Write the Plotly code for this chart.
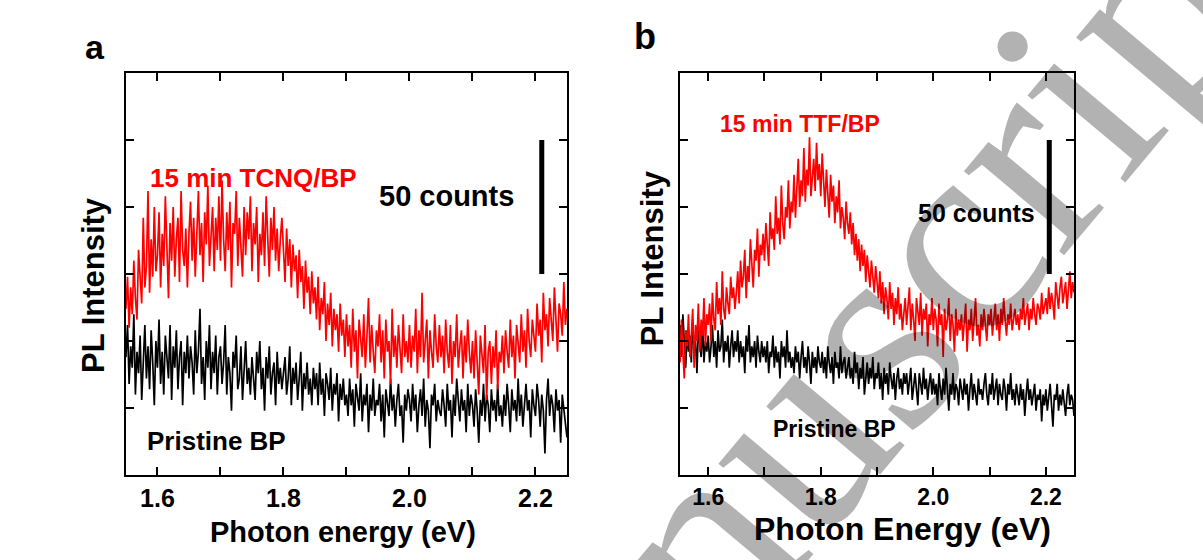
import plotly.graph_objects as go

# Photon energy grid (eV), shared by all four spectra
energy = [
    1.5500, 1.5525, 1.5550, 1.5575, 1.5600, 1.5625, 1.5650, 1.5675, 1.5700, 1.5725,
    1.5750, 1.5775, 1.5800, 1.5825, 1.5850, 1.5875, 1.5900, 1.5925, 1.5950, 1.5975,
    1.6000, 1.6025, 1.6050, 1.6075, 1.6100, 1.6125, 1.6150, 1.6175, 1.6200, 1.6225,
    1.6250, 1.6275, 1.6300, 1.6325, 1.6350, 1.6375, 1.6400, 1.6425, 1.6450, 1.6475,
    1.6500, 1.6525, 1.6550, 1.6575, 1.6600, 1.6625, 1.6650, 1.6675, 1.6700, 1.6725,
    1.6750, 1.6775, 1.6800, 1.6825, 1.6850, 1.6875, 1.6900, 1.6925, 1.6950, 1.6975,
    1.7000, 1.7025, 1.7050, 1.7075, 1.7100, 1.7125, 1.7150, 1.7175, 1.7200, 1.7225,
    1.7250, 1.7275, 1.7300, 1.7325, 1.7350, 1.7375, 1.7400, 1.7425, 1.7450, 1.7475,
    1.7500, 1.7525, 1.7550, 1.7575, 1.7600, 1.7625, 1.7650, 1.7675, 1.7700, 1.7725,
    1.7750, 1.7775, 1.7800, 1.7825, 1.7850, 1.7875, 1.7900, 1.7925, 1.7950, 1.7975,
    1.8000, 1.8025, 1.8050, 1.8075, 1.8100, 1.8125, 1.8150, 1.8175, 1.8200, 1.8225,
    1.8250, 1.8275, 1.8300, 1.8325, 1.8350, 1.8375, 1.8400, 1.8425, 1.8450, 1.8475,
    1.8500, 1.8525, 1.8550, 1.8575, 1.8600, 1.8625, 1.8650, 1.8675, 1.8700, 1.8725,
    1.8750, 1.8775, 1.8800, 1.8825, 1.8850, 1.8875, 1.8900, 1.8925, 1.8950, 1.8975,
    1.9000, 1.9025, 1.9050, 1.9075, 1.9100, 1.9125, 1.9150, 1.9175, 1.9200, 1.9225,
    1.9250, 1.9275, 1.9300, 1.9325, 1.9350, 1.9375, 1.9400, 1.9425, 1.9450, 1.9475,
    1.9500, 1.9525, 1.9550, 1.9575, 1.9600, 1.9625, 1.9650, 1.9675, 1.9700, 1.9725,
    1.9750, 1.9775, 1.9800, 1.9825, 1.9850, 1.9875, 1.9900, 1.9925, 1.9950, 1.9975,
    2.0000, 2.0025, 2.0050, 2.0075, 2.0100, 2.0125, 2.0150, 2.0175, 2.0200, 2.0225,
    2.0250, 2.0275, 2.0300, 2.0325, 2.0350, 2.0375, 2.0400, 2.0425, 2.0450, 2.0475,
    2.0500, 2.0525, 2.0550, 2.0575, 2.0600, 2.0625, 2.0650, 2.0675, 2.0700, 2.0725,
    2.0750, 2.0775, 2.0800, 2.0825, 2.0850, 2.0875, 2.0900, 2.0925, 2.0950, 2.0975,
    2.1000, 2.1025, 2.1050, 2.1075, 2.1100, 2.1125, 2.1150, 2.1175, 2.1200, 2.1225,
    2.1250, 2.1275, 2.1300, 2.1325, 2.1350, 2.1375, 2.1400, 2.1425, 2.1450, 2.1475,
    2.1500, 2.1525, 2.1550, 2.1575, 2.1600, 2.1625, 2.1650, 2.1675, 2.1700, 2.1725,
    2.1750, 2.1775, 2.1800, 2.1825, 2.1850, 2.1875, 2.1900, 2.1925, 2.1950, 2.1975,
    2.2000, 2.2025, 2.2050, 2.2075, 2.2100, 2.2125, 2.2150, 2.2175, 2.2200, 2.2225,
    2.2250, 2.2275, 2.2300, 2.2325, 2.2350, 2.2375, 2.2400, 2.2425, 2.2450, 2.2475,
    2.2500,
]

# Panel a: 15 min TCNQ/BP (red), counts
tcnq_bp = [
    62, 74, 55, 70, 60, 80, 66, 58, 84, 72, 64, 96, 70, 78, 106, 68, 88, 74, 100, 76,
    82, 98, 70, 90, 78, 104, 86, 66, 94, 80, 100, 74, 88, 96, 72, 106, 84, 78, 92, 70,
    90, 102, 80, 96, 74, 88, 106, 82, 94, 72, 98, 86, 108, 78, 92, 100, 76, 96, 84, 104,
    80, 110, 88, 76, 98, 84, 102, 70, 94, 90, 106, 78, 96, 86, 74, 100, 82, 98, 88, 104,
    76, 94, 86, 100, 72, 90, 82, 98, 78, 104, 86, 74, 96, 84, 100, 80, 92, 76, 88, 96,
    84, 72, 92, 78, 88, 70, 86, 76, 82, 66, 84, 72, 78, 62, 80, 68, 74, 60, 76, 64,
    70, 58, 74, 54, 66, 60, 72, 50, 64, 56, 68, 48, 62, 54, 60, 46, 64, 52, 58, 44,
    60, 48, 56, 40, 62, 46, 54, 36, 58, 50, 44, 60, 40, 52, 66, 42, 56, 46, 38, 54,
    48, 60, 42, 54, 36, 58, 46, 50, 34, 62, 44, 52, 40, 56, 48, 38, 60, 44, 50, 42,
    56, 40, 52, 46, 62, 38, 54, 44, 68, 42, 50, 58, 36, 54, 46, 40, 60, 48, 42, 56,
    44, 52, 38, 58, 46, 40, 56, 34, 50, 44, 60, 40, 48, 54, 36, 52, 42, 58, 46, 38,
    50, 36, 54, 42, 30, 52, 44, 38, 56, 28, 46, 50, 34, 48, 40, 54, 32, 46, 42, 52,
    38, 54, 46, 40, 58, 44, 52, 36, 56, 48, 42, 60, 46, 54, 40, 62, 50, 44, 58, 52,
    46, 64, 52, 58, 42, 68, 54, 60, 48, 66, 56, 50, 70, 58, 46, 64, 60, 52, 72, 56,
    62,
]

# Panel a: pristine BP (black), counts
pristine_a = [
    44, 56, 34, 48, 40, 60, 30, 46, 38, 52, 28, 44, 56, 36, 48, 32, 54, 42, 26, 50,
    40, 58, 34, 46, 30, 52, 42, 36, 56, 28, 48, 40, 54, 32, 44, 50, 26, 46, 38, 52,
    36, 48, 42, 30, 54, 38, 46, 62, 34, 44, 28, 50, 40, 56, 32, 46, 38, 52, 30, 44,
    48, 34, 42, 56, 30, 44, 38, 24, 46, 40, 52, 32, 36, 48, 28, 42, 50, 34, 40, 30,
    44, 36, 28, 46, 38, 50, 32, 40, 24, 44, 36, 48, 30, 38, 42, 26, 46, 34, 40, 32,
    38, 44, 30, 36, 48, 26, 40, 34, 42, 28, 36, 46, 24, 38, 32, 42, 30, 36, 26, 40,
    32, 38, 26, 42, 30, 36, 22, 38, 34, 28, 40, 24, 34, 30, 38, 20, 34, 28, 36, 26,
    30, 22, 36, 26, 32, 18, 34, 28, 24, 38, 20, 30, 26, 34, 16, 30, 24, 36, 22, 28,
    26, 34, 20, 30, 14, 32, 26, 22, 36, 24, 30, 18, 28, 34, 22, 26, 12, 30, 24, 32,
    28, 20, 34, 24, 30, 16, 26, 32, 22, 36, 18, 28, 24, 10, 30, 26, 34, 20, 28, 24,
    22, 32, 26, 18, 34, 24, 28, 14, 30, 22, 36, 26, 20, 32, 24, 28, 16, 34, 22, 30,
    26, 18, 32, 24, 12, 28, 22, 34, 20, 30, 26, 16, 32, 24, 28, 20, 34, 22, 26, 18,
    30, 22, 34, 26, 16, 32, 24, 28, 20, 36, 22, 30, 18, 26, 34, 24, 28, 14, 32, 26,
    22, 34, 28, 18, 30, 24, 8, 28, 36, 22, 30, 26, 16, 32, 24, 28, 12, 30, 24, 20,
    14,
]

# Panel b: 15 min TTF/BP (red), counts
ttf_bp = [
    42, 58, 46, 36, 54, 48, 60, 44, 52, 62, 40, 56, 50, 64, 46, 58, 52, 66, 48, 60,
    56, 64, 50, 68, 58, 54, 72, 60, 66, 56, 76, 62, 58, 70, 64, 60, 74, 66, 70, 62,
    68, 76, 64, 80, 70, 74, 84, 66, 78, 72, 88, 76, 70, 84, 80, 92, 74, 86, 82, 90,
    80, 94, 86, 78, 98, 88, 92, 84, 104, 90, 96, 86, 108, 94, 88, 100, 96, 110, 92, 102,
    98, 112, 96, 106, 118, 100, 110, 104, 122, 102, 114, 108, 126, 104, 112, 118, 106, 124, 110, 116,
    104, 120, 110, 100, 114, 106, 96, 112, 102, 108, 94, 104, 98, 110, 92, 100, 96, 88, 102, 94,
    90, 98, 86, 94, 82, 90, 80, 88, 76, 86, 78, 84, 72, 82, 76, 70, 80, 74, 68, 78,
    72, 66, 76, 64, 72, 60, 70, 66, 58, 72, 62, 68, 56, 66, 60, 70, 58, 64, 54, 62,
    66, 56, 62, 70, 54, 64, 58, 50, 66, 60, 56, 68, 52, 62, 58, 64, 48, 60, 56, 66,
    54, 62, 58, 48, 64, 56, 60, 44, 62, 54, 58, 66, 50, 60, 56, 46, 62, 52, 58, 54,
    60, 50, 56, 64, 46, 58, 54, 62, 50, 58, 66, 52, 56, 48, 60, 54, 62, 56, 50, 60,
    56, 62, 52, 58, 64, 54, 60, 50, 62, 56, 66, 58, 52, 60, 56, 64, 54, 58, 62, 56,
    60, 54, 62, 58, 66, 56, 60, 64, 54, 62, 58, 66, 60, 56, 64, 62, 58, 68, 60, 64,
    66, 60, 70, 62, 68, 64, 58, 72, 66, 62, 70, 74, 64, 68, 72, 62, 70, 76, 66, 72,
    68,
]

# Panel b: pristine BP (black), counts
pristine_b = [
    56, 44, 60, 48, 40, 54, 46, 52, 42, 58, 46, 50, 38, 54, 48, 44, 56, 42, 50, 46,
    52, 42, 48, 56, 44, 50, 40, 54, 46, 48, 58, 42, 50, 46, 52, 40, 48, 54, 44, 50,
    46, 54, 42, 50, 44, 48, 38, 52, 46, 56, 42, 48, 44, 50, 40, 52, 46, 42, 50, 44,
    48, 42, 50, 38, 46, 44, 52, 40, 48, 42, 46, 36, 50, 44, 48, 40, 54, 42, 46, 40,
    44, 38, 48, 42, 46, 36, 44, 50, 40, 44, 38, 48, 42, 34, 46, 40, 44, 38, 48, 42,
    40, 46, 38, 44, 36, 48, 42, 38, 44, 34, 46, 40, 42, 36, 48, 38, 42, 44, 36, 40,
    44, 36, 40, 34, 46, 38, 42, 32, 40, 36, 44, 30, 38, 42, 34, 40, 36, 44, 32, 38,
    36, 42, 32, 38, 28, 40, 34, 38, 30, 42, 36, 32, 38, 28, 36, 40, 32, 36, 30, 38,
    34, 38, 30, 36, 40, 28, 34, 38, 32, 26, 38, 34, 30, 40, 32, 36, 28, 34, 38, 30,
    36, 30, 34, 26, 38, 32, 28, 36, 30, 40, 32, 24, 34, 30, 38, 28, 34, 32, 26, 36,
    32, 28, 36, 30, 34, 24, 32, 38, 28, 34, 30, 26, 36, 30, 32, 28, 34, 38, 30, 26,
    34, 30, 38, 28, 32, 36, 26, 34, 30, 28, 36, 32, 24, 34, 30, 38, 28, 32, 26, 34,
    30, 26, 34, 28, 32, 22, 30, 36, 28, 32, 26, 30, 34, 24, 30, 28, 32, 20, 30, 26,
    32, 24, 30, 34, 26, 18, 30, 28, 34, 24, 30, 26, 32, 28, 22, 30, 34, 26, 30, 28,
    22,
]

x_tickvals = [1.6, 1.7, 1.8, 1.9, 2.0, 2.1, 2.2]
x_ticktext = ["1.6", "", "1.8", "", "2.0", "", "2.2"]
y_tickvals = [25, 50, 75, 100, 125]
scale_bar = [75, 125]  # 50 counts

FONT = "Liberation Sans, Arial, sans-serif"
RED = "#ff0000"
LW = 1.7

fig = go.Figure()
fig.add_trace(go.Scatter(x=energy, y=pristine_a, mode="lines",
                         line=dict(color="black", width=LW), xaxis="x", yaxis="y"))
fig.add_trace(go.Scatter(x=energy, y=tcnq_bp, mode="lines",
                         line=dict(color=RED, width=LW), xaxis="x", yaxis="y"))
fig.add_trace(go.Scatter(x=energy, y=pristine_b, mode="lines",
                         line=dict(color="black", width=LW), xaxis="x2", yaxis="y2"))
fig.add_trace(go.Scatter(x=energy, y=ttf_bp, mode="lines",
                         line=dict(color=RED, width=LW), xaxis="x2", yaxis="y2"))

# 50-count scale bars
fig.add_trace(go.Scatter(x=[2.21, 2.21], y=scale_bar, mode="lines",
                         line=dict(color="black", width=5), xaxis="x", yaxis="y"))
fig.add_trace(go.Scatter(x=[2.206, 2.206], y=scale_bar, mode="lines",
                         line=dict(color="black", width=5), xaxis="x2", yaxis="y2"))

def xax(size):
    return dict(range=[1.55, 2.25], tickvals=x_tickvals, ticktext=x_ticktext,
                ticks="inside", ticklen=8, tickwidth=2, tickcolor="black",
                showline=True, linewidth=2, linecolor="black", mirror="ticks",
                showgrid=False, zeroline=False,
                tickfont=dict(family=FONT, size=size, color="black", weight="bold"))

yax = dict(range=[0, 150], tickvals=y_tickvals, showticklabels=False,
           ticks="inside", ticklen=8, tickwidth=2, tickcolor="black",
           showline=True, linewidth=2, linecolor="black", mirror="ticks",
           showgrid=False, zeroline=False)

fig.update_layout(
    width=1203, height=560,
    margin=dict(l=0, r=0, t=0, b=0),
    paper_bgcolor="white", plot_bgcolor="white",
    showlegend=False,
    xaxis=dict(domain=[0.1047, 0.4713], anchor="y", **xax(25)),
    yaxis=dict(domain=[0.1518, 0.8696], anchor="x", **yax),
    xaxis2=dict(domain=[0.5653, 0.8928], anchor="y2", **xax(23)),
    yaxis2=dict(domain=[0.1518, 0.8696], anchor="x2", **yax),
)

def txt(text, x, y, size, color="black", xref="paper", yref="paper", angle=0, family=FONT):
    fig.add_annotation(text=text, x=x, y=y, xref=xref, yref=yref, showarrow=False,
                       xanchor="center", yanchor="middle", textangle=angle,
                       font=dict(family=family, size=size, color=color, weight="bold"))

# Panel letters
txt("a", 0.079, 0.916, 34)
txt("b", 0.536, 0.934, 36)
# Axis titles
txt("Photon energy (eV)", 0.2851, 0.050, 29)
txt("Photon Energy (eV)", 0.7498, 0.055, 32)
txt("PL Intensity", 0.0773, 0.491, 31, angle=-90)
txt("PL Intensity", 0.542, 0.539, 31, angle=-90)
# In-panel labels
txt("15 min TCNQ/BP", 1.752, 110.8, 26, RED, "x", "y")
txt("50 counts", 2.058, 104, 29, "black", "x", "y")
txt("Pristine BP", 1.694, 12.7, 26, "black", "x", "y")
txt("15 min TTF/BP", 1.763, 131, 23, RED, "x2", "y2")
txt("50 counts", 2.076, 97.8, 25, "black", "x2", "y2")
txt("Pristine BP", 1.824, 17.2, 23, "black", "x2", "y2")

# Diagonal "manuscript" watermark overlay
fig.add_annotation(text="Manuscript", x=0.685, y=0.30, xref="paper", yref="paper",
                   showarrow=False, xanchor="center", yanchor="middle", textangle=-50,
                   font=dict(family="Liberation Serif, Times New Roman, serif",
                             size=285, color="rgba(0,0,0,0.3)"))

fig.write_html("out.html")
